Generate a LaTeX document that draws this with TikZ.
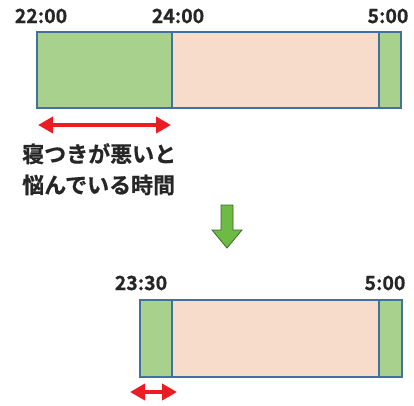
\documentclass[tikz,border=0pt]{standalone}
\usepackage{fontspec}
\setmainfont{Noto Sans CJK JP}[BoldFont={* Bold},BoldFeatures={FakeBold=0.6}]
\usetikzlibrary{arrows.meta}
\definecolor{bargreen}{HTML}{A9D18E}
\definecolor{barpeach}{HTML}{F8DCCB}
\definecolor{barline}{HTML}{41719C}
\definecolor{arrred}{HTML}{ED1C24}
\definecolor{arrgreen}{HTML}{6DBA45}
\definecolor{arrgreenline}{HTML}{3A6B24}
\begin{document}
\begin{tikzpicture}[x=1pt,y=-1pt,
  seg/.style={draw=barline,line width=1.6pt},
  tlabel/.style={font=\bfseries\fontsize{19.5}{20}\selectfont,text=black!85,inner sep=0pt},
  jlabel/.style={font=\bfseries\fontsize{22}{31}\selectfont,text=black!85,inner sep=0pt,align=left},
  dblarrow/.style={arrred,line width=4.5pt,{Triangle[width=16pt,length=15pt]}-{Triangle[width=16pt,length=15pt]}},
  downarrow/.style={draw=arrgreenline,fill=arrgreen,line width=0.8pt,line join=miter}]
\useasboundingbox (0,0) rectangle (414,405);
% top bar
\path[seg,fill=bargreen] (37,32) rectangle (172,108);
\path[seg,fill=barpeach] (172,32) rectangle (379,108);
\path[seg,fill=bargreen] (379,32) rectangle (401,108);
\node[tlabel] (t1) at (41,16) {22:00};
\node[tlabel] (t2) at (178,16) {24:00};
\node[tlabel] (t3) at (388,16) {5:00};
\coordinate (a1) at (38,125);
\coordinate (a2) at (171,125);
\draw[dblarrow] (a1) -- (a2);
\node[jlabel,anchor=north west] (txt) at (22,143) {寝つきが悪いと\\悩んでいる時間};
% green arrow
\coordinate (down) at (227,205);
\path[downarrow] (down) ++(-6,0) -- ++(0,25) -- ++(-9,0) -- ++(15,18) -- ++(15,-18) -- ++(-9,0) -- ++(0,-25) -- cycle;
% bottom bar
\path[seg,fill=bargreen] (140,300) rectangle (172,377);
\path[seg,fill=barpeach] (172,300) rectangle (379,377);
\path[seg,fill=bargreen] (379,300) rectangle (402,377);
\node[tlabel] (b1) at (141,283) {23:30};
\node[tlabel] (b2) at (385,283) {5:00};
\coordinate (c1) at (130,392);
\coordinate (c2) at (177,392);
\draw[dblarrow] (c1) -- (c2);
\end{tikzpicture}
\end{document}
